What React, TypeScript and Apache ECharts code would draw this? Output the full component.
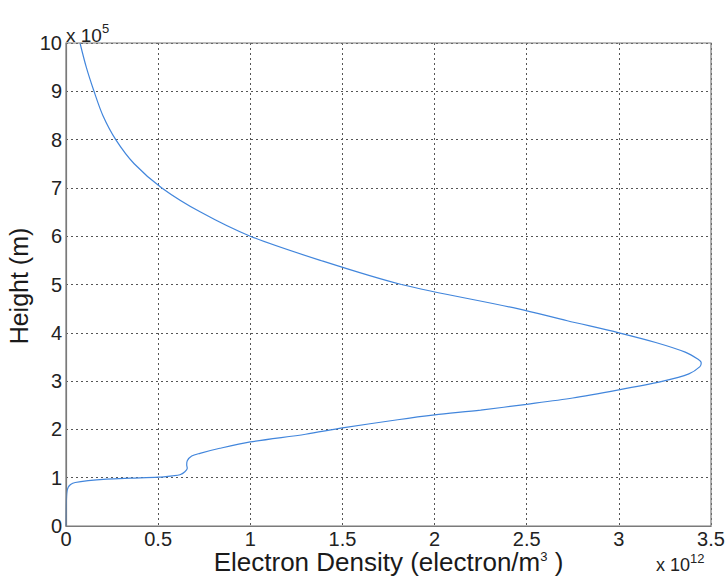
import React, { useEffect, useRef } from "react";
import * as echarts from "echarts";

// Height in units of 1e5 m, density in units of 1e12 electron/m^3
const heights = [
  0, 0.5, 0.7, 0.8, 0.86, 0.9, 0.94, 0.97, 0.99, 1.01, 1.04, 1.062, 1.124, 1.195, 1.263, 1.352,
  1.449, 1.505, 1.609, 1.74, 1.9, 2.03, 2.2, 2.3, 2.4, 2.52, 2.65, 2.82, 3.0, 3.15, 3.3, 3.38,
  3.45, 3.6, 3.8, 4.0, 4.25, 4.5, 5.0, 5.5, 6.0, 6.5, 7.0, 7.5, 8.0, 8.5, 9.0, 9.5, 10.0,
];
const densities = [
  0, 0.002, 0.005, 0.012, 0.025, 0.05, 0.12, 0.22, 0.35, 0.5, 0.58, 0.618, 0.645, 0.658, 0.655, 0.658,
  0.682, 0.727, 0.835, 1.0, 1.3, 1.5, 1.8, 2.0, 2.25, 2.5, 2.75, 3.0, 3.24, 3.38, 3.44, 3.447,
  3.43, 3.36, 3.2, 3.0, 2.72, 2.45, 1.82, 1.38, 1.0, 0.73, 0.52, 0.37, 0.27, 0.2, 0.152, 0.11, 0.076,
];
const xTicks = ["0", "0.5", "1", "1.5", "2", "2.5", "3", "3.5"];
const yTicks = ["0", "1", "2", "3", "4", "5", "6", "7", "8", "9", "10"];
const xTitle = "Electron Density (electron/m{sup|3} )";
const yTitle = "Height (m)";

const FONT = "Liberation Sans, Arial, sans-serif";

export default function App() {
  const ref = useRef<HTMLDivElement>(null);
  useEffect(() => {
    const chart = echarts.init(ref.current!, null, { renderer: "svg" });
    const data = heights.map((h, i) => [densities[i], h]);
    const sup = { fontSize: 13, verticalAlign: "top", padding: [0, 0, 13, 0], fontFamily: FONT, fill: "#222" };
    chart.setOption({
      animation: false,
      backgroundColor: "#ffffff",
      grid: { left: 66, right: 17, top: 43, bottom: 51, containLabel: false, outerBoundsMode: "none" },
      xAxis: {
        type: "value",
        min: 0,
        max: 3.5,
        interval: 0.5,
        axisLine: { show: true, lineStyle: { color: "#7a7a7a", width: 1.2 } },
        axisTick: { show: false },
        axisLabel: {
          fontFamily: FONT,
          fontSize: 20,
          lineHeight: 18,
          color: "#222",
          margin: 4,
          formatter: (v: number) => xTicks[Math.round(v / 0.5)] ?? "",
        },
        splitLine: { show: true, lineStyle: { color: "#555", type: [2, 3], width: 1 } },
      },
      yAxis: {
        type: "value",
        min: 0,
        max: 10,
        interval: 1,
        axisLine: { show: true, lineStyle: { color: "#7a7a7a", width: 1.2 } },
        axisTick: { show: false },
        axisLabel: {
          fontFamily: FONT,
          fontSize: 20,
          color: "#222",
          margin: 4,
          formatter: (v: number) => yTicks[Math.round(v)] ?? "",
        },
        splitLine: { show: true, lineStyle: { color: "#555", type: [2, 3], width: 1 } },
      },
      graphic: [
        { type: "rect", shape: { x: 66, y: 43, width: 645, height: 483 }, style: { fill: "none", stroke: "#7a7a7a", lineWidth: 1.2 }, silent: true, z: 10 },
        {
          type: "text",
          x: 388.5,
          y: 562,
          style: {
            text: xTitle,
            x: 0,
            y: 0,
            align: "center",
            verticalAlign: "middle",
            fontFamily: FONT,
            fontSize: 26,
            lineHeight: 24,
            fill: "#1a1a1a",
            rich: { sup: { fontSize: 13, verticalAlign: "top", lineHeight: 13, fontFamily: FONT, fill: "#1a1a1a" } },
          },
        },
        {
          type: "text",
          x: 19,
          y: 286,
          rotation: Math.PI / 2,
          style: {
            text: yTitle,
            x: 0,
            y: 0,
            align: "center",
            verticalAlign: "middle",
            fontFamily: FONT,
            fontSize: 25,
            fill: "#1a1a1a",
          },
        },
        {
          type: "text",
          left: 66,
          top: 22,
          style: {
            text: "x 10{sup|5}",
            fontFamily: FONT,
            fontSize: 19,
            fill: "#222",
            rich: { sup },
          },
        },
        {
          type: "text",
          left: 656,
          top: 552,
          style: {
            text: "x 10{sup|12}",
            fontFamily: FONT,
            fontSize: 18,
            fill: "#222",
            rich: { sup },
          },
        },
      ],
      series: [
        {
          type: "line",
          data,
          smooth: 0.3,
          showSymbol: false,
          lineStyle: { color: "#4286dc", width: 1.2 },
        },
      ],
    });
    return () => chart.dispose();
  }, []);
  return <div ref={ref} style={{ width: 728, height: 577, position: "absolute", left: 0, top: 0 }} />;
}
